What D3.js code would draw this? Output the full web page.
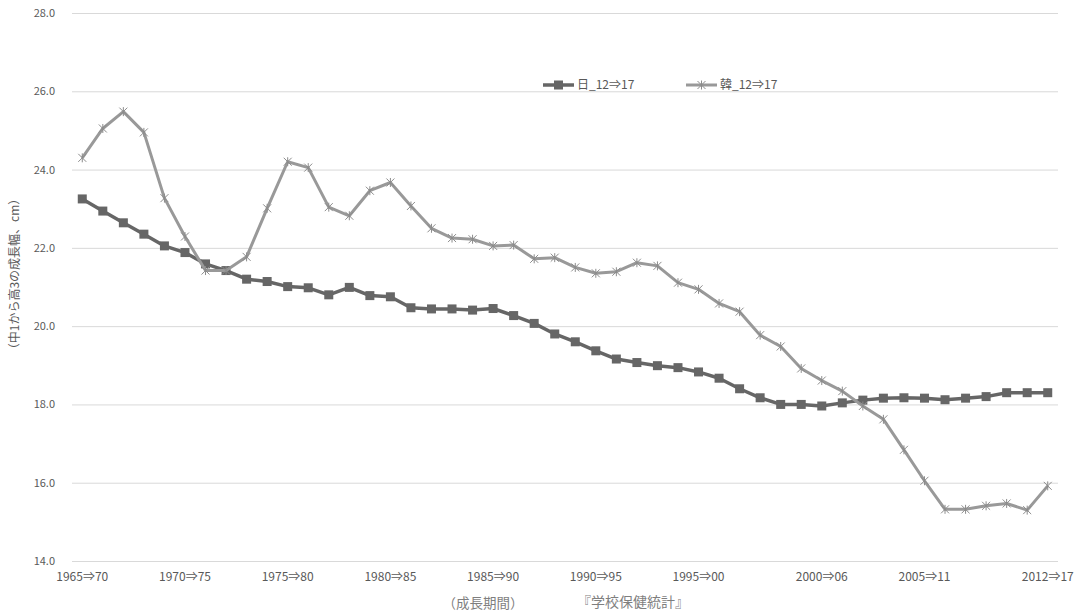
<!DOCTYPE html>
<html lang="ja">
<head>
<meta charset="utf-8">
<script src="https://cdn.jsdelivr.net/npm/d3@7"></script>
<style>
  html, body { margin: 0; padding: 0; background: #fff; }
  svg { display: block; font-family: "Noto Sans CJK JP", "Noto Sans", sans-serif; }
</style>
</head>
<body>
<svg id="chart" width="1083" height="614"></svg>
<script>
// 中1（12歳）から高3（17歳）までの身長の伸び幅、コーホート別
const periodCount = 48;
const tickIndex  = [0, 5, 10, 15, 20, 25, 30, 36, 41, 47];
const tickLabels = ["1965⇒70", "1970⇒75", "1975⇒80", "1980⇒85", "1985⇒90",
                    "1990⇒95", "1995⇒00", "2000⇒06", "2005⇒11", "2012⇒17"];

const japan = [
  23.25, 22.94, 22.64, 22.35, 22.05, 21.88, 21.59, 21.42, 21.20, 21.14,
  21.01, 20.98, 20.80, 20.99, 20.78, 20.75, 20.47, 20.44, 20.44, 20.41,
  20.45, 20.27, 20.07, 19.80, 19.60, 19.37, 19.16, 19.07, 18.99, 18.94,
  18.83, 18.67, 18.40, 18.17, 18.00, 18.00, 17.96, 18.04, 18.11, 18.16,
  18.17, 18.16, 18.12, 18.16, 18.20, 18.30, 18.30, 18.30
];
const korea = [
  24.30, 25.05, 25.48, 24.95, 23.27, 22.29, 21.42, 21.42, 21.77, 23.01,
  24.20, 24.05, 23.04, 22.82, 23.46, 23.67, 23.07, 22.50, 22.25, 22.22,
  22.05, 22.07, 21.72, 21.75, 21.50, 21.35, 21.39, 21.62, 21.54, 21.11,
  20.94, 20.58, 20.37, 19.77, 19.48, 18.92, 18.61, 18.34, 17.96, 17.62,
  16.84, 16.05, 15.32, 15.32, 15.41, 15.47, 15.30, 15.92
];
const yTicks = [14, 16, 18, 20, 22, 24, 26, 28];

const seriesNames = ["日_12⇒17", "韓_12⇒17"];
const yTitle = "（中1から高3の成長幅、cm）";
const xTitle = "（成長期間）";
const sourceNote = "『学校保健統計』";

const svg = d3.select("#chart");
const plot = { left: 72, right: 1058, top: 13, bottom: 561 };

const x = d3.scaleBand()
  .domain(d3.range(periodCount))
  .range([plot.left, plot.right])
  .paddingInner(0).paddingOuter(0);
const cx = i => x(i) + x.bandwidth() / 2;

const y = d3.scaleLinear().domain([14, 28]).range([plot.bottom, plot.top]);

const textColor = "#595959";

// y axis with horizontal gridlines
const yAxis = svg.append("g")
  .attr("transform", `translate(${plot.left},0)`)
  .call(d3.axisLeft(y)
    .tickValues(yTicks)
    .tickFormat(d3.format(".1f"))
    .tickSizeInner(-(plot.right - plot.left))
    .tickSizeOuter(0)
    .tickPadding(17));
yAxis.select(".domain").remove();
yAxis.selectAll(".tick line").attr("stroke", "#d9d9d9").attr("stroke-width", 1);
yAxis.selectAll(".tick text")
  .attr("fill", textColor)
  .style("font-size", "11px")
  .style("font-family", "'Noto Sans CJK JP', sans-serif");

// x axis labels
const xAxis = svg.append("g")
  .attr("transform", `translate(0,${plot.bottom})`)
  .call(d3.axisBottom(x)
    .tickValues(tickIndex)
    .tickFormat((d, i) => tickLabels[i])
    .tickSize(0)
    .tickPadding(11));
xAxis.select(".domain").remove();
xAxis.selectAll(".tick text")
  .attr("fill", textColor)
  .style("font-size", "12px")
  .style("font-family", "'Noto Sans CJK JP', sans-serif");

// series lines
const line = d3.line().x((d, i) => cx(i)).y(d => y(d));

const jpColor = "#666666";
const krColor = "#999999";

svg.append("path")
  .datum(japan)
  .attr("d", line)
  .attr("fill", "none")
  .attr("stroke", jpColor)
  .attr("stroke-width", 3.5)
  .attr("stroke-linejoin", "round");

svg.append("g").selectAll("rect")
  .data(japan)
  .join("rect")
  .attr("x", (d, i) => cx(i) - 4.5)
  .attr("y", d => y(d) - 4.5)
  .attr("width", 9)
  .attr("height", 9)
  .attr("fill", jpColor);

svg.append("path")
  .datum(korea)
  .attr("d", line)
  .attr("fill", "none")
  .attr("stroke", krColor)
  .attr("stroke-width", 3)
  .attr("stroke-linejoin", "round");

const starPath = "M-4,-4L4,4M-4,4L4,-4M0,-4.5L0,4.5";
svg.append("g").selectAll("path")
  .data(korea)
  .join("path")
  .attr("transform", (d, i) => `translate(${cx(i)},${y(d)})`)
  .attr("d", starPath)
  .attr("fill", "none")
  .attr("stroke", "#8c8c8c")
  .attr("stroke-width", 1);

// legend
const legend = svg.append("g").attr("transform", "translate(0,85)");
const legendItems = [
  { name: seriesNames[0], x0: 543, color: jpColor, w: 3.5, marker: "square" },
  { name: seriesNames[1], x0: 686, color: krColor, w: 3, marker: "star" }
];
legendItems.forEach(item => {
  const g = legend.append("g").attr("transform", `translate(${item.x0},0)`);
  g.append("line")
    .attr("x1", 0).attr("x2", 31).attr("y1", 0).attr("y2", 0)
    .attr("stroke", item.color).attr("stroke-width", item.w);
  if (item.marker === "square") {
    g.append("rect").attr("x", 15.5 - 4.5).attr("y", -4.5)
      .attr("width", 9).attr("height", 9).attr("fill", item.color);
  } else {
    g.append("path").attr("transform", "translate(15.5,0)")
      .attr("d", starPath).attr("fill", "none")
      .attr("stroke", "#8c8c8c").attr("stroke-width", 1);
  }
  g.append("text")
    .attr("x", 34).attr("y", 0).attr("dy", "0.35em")
    .attr("fill", textColor)
    .style("font-size", "12px")
    .text(item.name);
});

// axis titles
svg.append("text")
  .attr("transform", "translate(15,274) rotate(-90)")
  .attr("text-anchor", "middle")
  .attr("dy", "0.35em")
  .attr("fill", textColor)
  .style("font-size", "12px")
  .text(yTitle);

svg.append("text")
  .attr("x", 483).attr("y", 603).attr("dy", "0.35em")
  .attr("text-anchor", "middle")
  .attr("fill", "#7f7f7f")
  .style("font-size", "13.5px")
  .text(xTitle);

svg.append("text")
  .attr("x", 633).attr("y", 602).attr("dy", "0.35em")
  .attr("text-anchor", "middle")
  .attr("fill", "#7f7f7f")
  .style("font-size", "14px")
  .text(sourceNote);
</script>
</body>
</html>
